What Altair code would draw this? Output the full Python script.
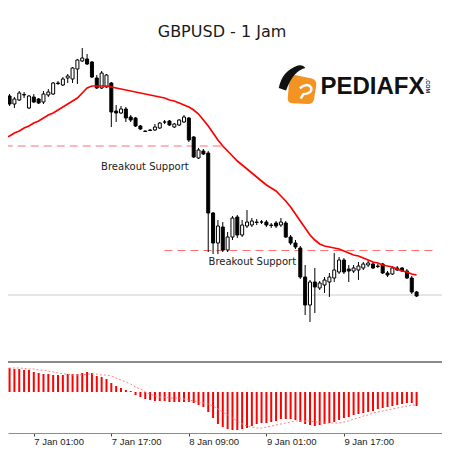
import altair as alt
import pandas as pd

# ---- hourly candles (GBPUSD H1), bar 0 = 6 Jan 19:00 ----
opens = [1.3211, 1.3204, 1.3196, 1.3200, 1.3205, 1.3192, 1.3203, 1.3201, 1.3198, 1.3205,
         1.3206, 1.3217, 1.3215, 1.3222, 1.3221, 1.3231, 1.3239, 1.3241, 1.3238, 1.3222,
         1.3212, 1.3213, 1.3217, 1.3189, 1.3187, 1.3191, 1.3183, 1.3182, 1.3174, 1.3169,
         1.3170, 1.3170, 1.3172, 1.3178, 1.3179, 1.3173, 1.3175, 1.3178, 1.3182, 1.3163,
         1.3142, 1.3149, 1.3147, 1.3087, 1.3057, 1.3073, 1.3050, 1.3063, 1.3083, 1.3065,
         1.3074, 1.3075, 1.3078, 1.3078, 1.3078, 1.3075, 1.3077, 1.3075, 1.3077, 1.3063,
         1.3057, 1.3052, 1.3023, 1.2995, 1.3018, 1.3012, 1.3015, 1.3018, 1.3022, 1.3028,
         1.3040, 1.3031, 1.3029, 1.3030, 1.3032, 1.3035, 1.3036, 1.3034, 1.3036, 1.3027,
         1.3026, 1.3032, 1.3032, 1.3029, 1.3022, 1.3008]
highs = [1.3213, 1.3206, 1.3203, 1.3209, 1.3208, 1.3205, 1.3206, 1.3202, 1.3209, 1.3211,
         1.3218, 1.3219, 1.3223, 1.3226, 1.3233, 1.3241, 1.3252, 1.3246, 1.3239, 1.3225,
         1.3229, 1.3226, 1.3218, 1.3195, 1.3194, 1.3193, 1.3185, 1.3183, 1.3175, 1.31695,
         1.3171, 1.3176, 1.3178, 1.3180, 1.3180, 1.3177, 1.3181, 1.3185, 1.3183, 1.3164,
         1.3152, 1.3151, 1.3149, 1.3088, 1.3080, 1.3078, 1.3068, 1.3084, 1.3085, 1.3080,
         1.3090, 1.3082, 1.3081, 1.3080, 1.3080, 1.3077, 1.3079, 1.3082, 1.3079, 1.3065,
         1.3060, 1.3054, 1.3035, 1.3020, 1.3032, 1.3019, 1.3023, 1.3027, 1.3047, 1.3043,
         1.3042, 1.3035, 1.3035, 1.3038, 1.3038, 1.3040, 1.3038, 1.3036, 1.3037, 1.3029,
         1.3034, 1.3034, 1.3033, 1.3031, 1.3024, 1.3009]
lows = [1.3203, 1.3194, 1.3192, 1.3199, 1.3202, 1.3191, 1.3197, 1.3196, 1.3196, 1.3203,
        1.3205, 1.3215, 1.3214, 1.3217, 1.3217, 1.3216, 1.3238, 1.3235, 1.3222, 1.3211,
        1.3211, 1.3212, 1.3173, 1.3178, 1.3186, 1.3178, 1.3178, 1.3173, 1.3170, 1.3168,
        1.3169, 1.3169, 1.3171, 1.3176, 1.3174, 1.3172, 1.3174, 1.3177, 1.3158, 1.3142,
        1.3141, 1.3145, 1.3048, 1.3046, 1.3046, 1.3048, 1.3048, 1.3060, 1.3062, 1.3063,
        1.3072, 1.3073, 1.3075, 1.3076, 1.3073, 1.3072, 1.3072, 1.3073, 1.3062, 1.3055,
        1.3051, 1.3021, 1.2985, 1.2978, 1.2987, 1.3010, 1.3007, 1.3003, 1.3018, 1.3026,
        1.3026, 1.3018, 1.3027, 1.3020, 1.3030, 1.3033, 1.3031, 1.3032, 1.3026, 1.3023,
        1.3025, 1.3029, 1.3028, 1.3021, 1.3006, 1.3003]
closes = [1.3205, 1.3196, 1.3201, 1.3207, 1.32055, 1.3204, 1.3198, 1.3197, 1.3206, 1.3208,
          1.3217, 1.32165, 1.3221, 1.3224, 1.3232, 1.3240, 1.3242, 1.3236, 1.3223, 1.3212,
          1.3227, 1.3225, 1.3188, 1.3187, 1.3191, 1.3182, 1.3180, 1.3174, 1.3171, 1.31685,
          1.31695, 1.3173, 1.3177, 1.3178, 1.3175, 1.3176, 1.3180, 1.3183, 1.3160, 1.3143,
          1.3150, 1.3146, 1.3087, 1.3057, 1.3074, 1.3050, 1.3063, 1.3082, 1.3065, 1.3075,
          1.3078, 1.3079, 1.30775, 1.3078, 1.3075, 1.30745, 1.3074, 1.3078, 1.3063, 1.3057,
          1.3053, 1.3023, 1.2995, 1.3018, 1.3013, 1.3017, 1.3020, 1.3023, 1.3030, 1.3040,
          1.3028, 1.3029, 1.3032, 1.3034, 1.3036, 1.3037, 1.3032, 1.30335, 1.3027, 1.3025,
          1.3032, 1.3030, 1.3029, 1.3022, 1.3008, 1.3004]
# red moving average
ma_values = [1.3162, 1.3164, 1.3167, 1.3169, 1.3172, 1.3174, 1.3177, 1.3179, 1.3182, 1.3185,
             1.3187, 1.3190, 1.3193, 1.3196, 1.3199, 1.3202, 1.3207, 1.3212, 1.3214, 1.3214,
             1.3214, 1.3214, 1.3213, 1.3212, 1.3211, 1.3210, 1.3209, 1.3208, 1.3207, 1.3206,
             1.3205, 1.3204, 1.3203, 1.3202, 1.3200, 1.3199, 1.3197, 1.3195, 1.3193, 1.3190,
             1.3186, 1.3180, 1.3174, 1.3167, 1.3160, 1.3154, 1.3149, 1.3144, 1.3139, 1.3135,
             1.3131, 1.3127, 1.3123, 1.3119, 1.3115, 1.3112, 1.3109, 1.3104, 1.3099, 1.3093,
             1.3086, 1.3079, 1.3072, 1.3065, 1.3060, 1.3056, 1.3054, 1.3053, 1.3052, 1.3051,
             1.3049, 1.3047, 1.3045, 1.3044, 1.3042, 1.3040, 1.3038, 1.3037, 1.3035, 1.3034,
             1.3033, 1.3031, 1.3029, 1.3028, 1.3026, 1.3025]
# MACD histogram and signal line
macd_values = [0.0024, 0.0024, 0.0023, 0.0023, 0.0022, 0.0022, 0.0020, 0.0019, 0.0018, 0.0018,
               0.0017, 0.0017, 0.0017, 0.0018, 0.0018, 0.0018, 0.0019, 0.0020, 0.0019, 0.0016,
               0.0015, 0.0013, 0.0009, 0.0006, 0.0004, 0.0002, 0.0001, -0.0003, -0.0005, -0.0007,
               -0.0008, -0.0009, -0.0009, -0.0009, -0.0010, -0.0010, -0.0010, -0.0010, -0.0010, -0.0011,
               -0.0013, -0.0015, -0.0020, -0.0026, -0.0032, -0.0035, -0.0037, -0.0038, -0.0038, -0.0037,
               -0.0036, -0.0034, -0.0032, -0.0031, -0.0031, -0.0030, -0.0029, -0.0027, -0.0027, -0.0027,
               -0.0028, -0.0030, -0.0032, -0.0033, -0.0034, -0.0033, -0.0032, -0.0031, -0.0030, -0.0028,
               -0.0026, -0.0025, -0.0023, -0.0022, -0.0021, -0.0020, -0.0019, -0.0017, -0.0016, -0.0015,
               -0.0014, -0.0013, -0.0012, -0.0011, -0.0011, -0.0014]
signal_values = [0.0024, 0.0024, 0.0024, 0.0024, 0.00235, 0.0023, 0.0023, 0.0022, 0.0022, 0.0021,
                 0.0020, 0.0019, 0.0018, 0.0018, 0.0017, 0.0017, 0.0017, 0.0018, 0.0018, 0.0018,
                 0.0017, 0.0017, 0.0016, 0.0014, 0.0012, 0.0010, 0.0008, 0.0005, 0.0003, 0.0000,
                 -0.0002, -0.0004, -0.0005, -0.0005, -0.0006, -0.0006, -0.0006, -0.0007, -0.0008, -0.0009,
                 -0.0010, -0.0011, -0.0012, -0.0014, -0.0017, -0.0020, -0.0023, -0.0026, -0.0029, -0.0032,
                 -0.0034, -0.0035, -0.0036, -0.0036, -0.0035, -0.0034, -0.0033, -0.0032, -0.0031, -0.0030,
                 -0.0029, -0.0029, -0.0029, -0.0029, -0.0030, -0.0030, -0.0031, -0.0031, -0.0031, -0.0031,
                 -0.0030, -0.0029, -0.0027, -0.0026, -0.0024, -0.0023, -0.0021, -0.0020, -0.0019, -0.0018,
                 -0.0017, -0.0016, -0.0015, -0.0014, -0.0013, -0.0013]

tick_bars = [6, 22, 38, 54, 70]
tick_labels = ["7 Jan 01:00", "7 Jan 17:00", "8 Jan 09:00", "9 Jan 01:00", "9 Jan 17:00"]

support_levels = [1.3154, 1.30495]
support_start = [0.0, 32.96]
support_end = [45.46, 88.8]
support_text = ["Breakout Support", "Breakout Support"]
support_text_bar = [28.93, 51.1]
support_text_price = [1.3130, 1.3035]
last_price = [1.3005]

title_text = "GBPUSD - 1 Jam"

# ---- layout ----
W, H = 434, 425
BAR_PX = 4.96
n = len(opens)
df = pd.DataFrame({
    "bar": list(range(n)), "open": opens, "high": highs, "low": lows, "close": closes,
    "ma": ma_values, "macd": macd_values, "signal": signal_values, "zero": [0.0] * n,
})
sup_df = pd.DataFrame({"level": support_levels, "start": support_start, "end": support_end})
txt_df = pd.DataFrame({"bar": support_text_bar, "price": support_text_price, "t": support_text})
last_df = pd.DataFrame({"price": last_price})

x_scale = alt.Scale(domain=[1.71, 1.71 + W / BAR_PX], nice=False, zero=False)
label_expr = "".join(f"datum.value == {b} ? '{t}' : " for b, t in zip(tick_bars, tick_labels)) + "''"
x_axis = alt.Axis(values=tick_bars, labelExpr=label_expr, grid=False, title=None,
                  domainColor="#8c8c8c", domainWidth=1, tickColor="#444444", tickSize=3,
                  labelAlign="left", labelBaseline="top", labelPadding=0, labelFlush=False,
                  labelOverlap=False, labelFont="Liberation Sans", labelFontSize=9.5,
                  labelColor="#222222")
price_scale = alt.Scale(domain=[1.2867, 1.3292], nice=False, zero=False)
macd_scale = alt.Scale(domain=[-0.0041, 0.0384], nice=False, zero=False)

X = alt.X("bar:Q", scale=x_scale, axis=x_axis)
base = alt.Chart(df)

last_line = alt.Chart(last_df).mark_rule(color="#cccccc", strokeWidth=1).encode(
    y=alt.Y("price:Q", scale=price_scale, axis=None))
support = alt.Chart(sup_df).mark_rule(color="#ff6f6f", strokeWidth=1.2, strokeDash=[8, 5], clip=True).encode(
    x=alt.X("start:Q", scale=x_scale, axis=x_axis), x2="end:Q",
    y=alt.Y("level:Q", scale=price_scale, axis=None))
wicks = base.mark_rule(color="black", strokeWidth=1, clip=True).encode(
    x=X, y=alt.Y("low:Q", scale=price_scale, axis=None), y2="high:Q")
bodies = base.mark_bar(size=3, stroke="black", strokeWidth=1, clip=True, orient="vertical").encode(
    x=X, y=alt.Y("open:Q", scale=price_scale, axis=None), y2="close:Q",
    fill=alt.condition("datum.close >= datum.open", alt.value("white"), alt.value("black")))
ma_line = base.mark_line(color="#ff0000", strokeWidth=1.7, clip=True).encode(
    x=X, y=alt.Y("ma:Q", scale=price_scale, axis=None))
labels = alt.Chart(txt_df).mark_text(font="DejaVu Sans", fontSize=10, color="#1a1a1a",
                                     baseline="alphabetic", align="center").encode(
    x=alt.X("bar:Q", scale=x_scale, axis=x_axis),
    y=alt.Y("price:Q", scale=price_scale, axis=None), text="t:N")
price_layer = alt.layer(last_line, support, wicks, bodies, ma_line, labels)

hist = base.mark_bar(size=2, color="#ff0000", clip=True, orient="vertical").encode(
    x=X, y=alt.Y("macd:Q", scale=macd_scale, axis=None), y2="zero:Q")
sig = base.mark_line(color="#ff8080", strokeWidth=1, strokeDash=[2, 2], clip=True).encode(
    x=X, y=alt.Y("signal:Q", scale=macd_scale, axis=None))
macd_layer = alt.layer(hist, sig)

one = pd.DataFrame({"t": [title_text]})
sep = alt.Chart(one).mark_rule(color="#8a8a8a", strokeWidth=2).encode(
    x=alt.value(0), x2=alt.value(W), y=alt.value(354))
title = alt.Chart(one).mark_text(font="DejaVu Sans", fontSize=16, color="#1a1a1a",
                                 align="center", baseline="alphabetic").encode(
    x=alt.value(214), y=alt.value(29), text="t:N")

logo_df = pd.DataFrame({"t": ["PEDIAFX"]})
logo_text = alt.Chart(logo_df).mark_text(font="Liberation Sans", fontSize=24, fontWeight="bold",
                                         color="#111111", align="center", baseline="alphabetic").encode(
    x=alt.value(364.5), y=alt.value(85.5), text="t:N")
com_df = pd.DataFrame({"t": [".COM"]})
logo_com = alt.Chart(com_df).mark_text(font="Liberation Sans", fontSize=5.5, fontWeight="bold",
                                       color="#111111", angle=90, align="center", baseline="middle").encode(
    x=alt.value(420), y=alt.value(78), text="t:N")
orange_path = ("M -0.55,-0.95 L 0.65,-0.7 Q 1,-0.6 0.95,-0.25 L 0.8,0.7 Q 0.72,1 0.4,1 "
               "L -0.65,0.95 Q -0.98,0.92 -0.95,0.6 L -0.85,-0.6 Q -0.8,-1 -0.55,-0.95 Z")
icon = alt.Chart(one).mark_point(shape=orange_path, filled=True, color="#f39322", opacity=1,
                                 size=900).encode(x=alt.value(294), y=alt.value(81))
swoosh_path = ("M -1,0.75 Q -0.75,-0.55 0.45,-0.95 Q 0.85,-1.02 1,-0.75 "
               "Q 0.1,-0.55 -0.45,0.95 Z")
swoosh = alt.Chart(one).mark_point(shape=swoosh_path, filled=True, color="#111111", opacity=1,
                                   size=700).encode(x=alt.value(284), y=alt.value(70))
inner_path = "M -0.6,-0.2 Q 0.3,-0.9 0.7,-0.3 Q 0.9,0.4 -0.2,0.5 L -0.5,1"
inner = alt.Chart(one).mark_point(shape=inner_path, filled=False, color="white", strokeWidth=2.5,
                                  opacity=1, size=300).encode(x=alt.value(297), y=alt.value(82))

chart = alt.layer(
    price_layer, macd_layer, sep, title, icon, swoosh, inner, logo_text, logo_com
).resolve_scale(y="independent").properties(
    width=W, height=H,
    padding={"left": 0, "top": 0, "right": 0, "bottom": 17},
    autosize=alt.AutoSizeParams(type="none"),
    background="white",
).configure_view(stroke=None)

chart.save("out.html", embed_options={"renderer": "svg", "actions": False})
